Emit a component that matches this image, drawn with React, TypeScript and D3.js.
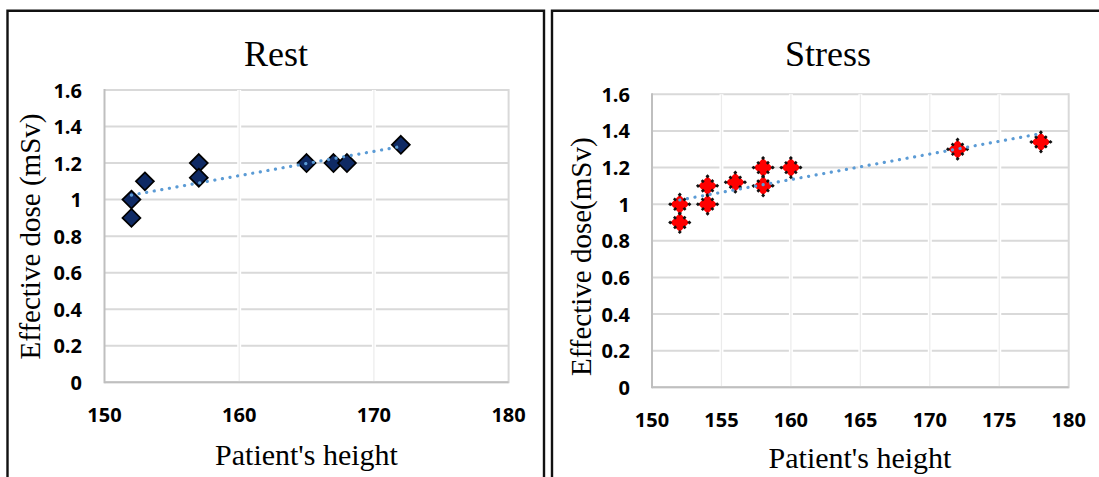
import React from "react";
import * as d3 from "d3";

// ---- data ----
const restHeight = [152, 152, 153, 157, 157, 165, 167, 168, 172];
const restDose = [0.9, 1.0, 1.1, 1.2, 1.12, 1.2, 1.2, 1.2, 1.3];
const stressHeight = [152, 152, 154, 154, 156, 158, 158, 160, 172, 178];
const stressDose = [0.9, 1.0, 1.0, 1.1, 1.12, 1.2, 1.1, 1.2, 1.3, 1.34];
const yTicks = [0, 0.2, 0.4, 0.6, 0.8, 1, 1.2, 1.4, 1.6];
const restXTicks = [150, 160, 170, 180];
const stressXTicks = [150, 155, 160, 165, 170, 175, 180];

const W = 1099;
const H = 477;

function fit(xs: number[], ys: number[]) {
  const mx = d3.mean(xs)!;
  const my = d3.mean(ys)!;
  let sxy = 0;
  let sxx = 0;
  xs.forEach((x, i) => {
    sxy += (x - mx) * (ys[i] - my);
    sxx += (x - mx) * (x - mx);
  });
  const b = sxy / sxx;
  const a = my - b * mx;
  const x0 = d3.min(xs)!;
  const x1 = d3.max(xs)!;
  return [
    [x0, a + b * x0],
    [x1, a + b * x1],
  ] as [number, number][];
}

type PanelProps = {
  xs: number[];
  ys: number[];
  xTicks: number[];
  xRange: [number, number];
  yRange: [number, number];
  title: string;
  titleX: number;
  xTitle: string;
  xTitleX: number;
  xTitleY: number;
  yTitle: string;
  yTitleX: number;
  yTitleY: number;
  yLabelX: number;
  xLabelY: number;
  kind: "rest" | "stress";
};

const tickFont = "'Open Sans', Lato, sans-serif";
const serif = "'Liberation Serif', 'Times New Roman', serif";

function Panel(p: PanelProps) {
  const x = d3.scaleLinear().domain([150, 180]).range(p.xRange);
  const y = d3.scaleLinear().domain([0, 1.6]).range(p.yRange);
  const trend = fit(p.xs, p.ys);
  const line = d3
    .line<[number, number]>()
    .x((d) => x(d[0]))
    .y((d) => y(d[1]));
  const diamond = (cx: number, cy: number, r: number) =>
    `M${cx},${cy - r}L${cx + r},${cy}L${cx},${cy + r}L${cx - r},${cy}Z`;
  const [xl, xr] = p.xRange;
  const [yb, yt] = p.yRange;
  return (
    <g>
      {yTicks.map((t) => (
        <line
          key={"h" + t}
          x1={xl}
          x2={xr}
          y1={y(t)}
          y2={y(t)}
          stroke="#D9D9D9"
          strokeWidth={2}
        />
      ))}
      {p.xTicks
        .filter((t) => t !== 150 && t !== 180)
        .map((t) => (
          <g key={"v" + t}>
            <line x1={x(t)} x2={x(t)} y1={yt} y2={yb - 1} stroke="#FFFFFF" strokeWidth={4} />
            <line x1={x(t)} x2={x(t)} y1={yt} y2={yb - 1} stroke="#EBEBEB" strokeWidth={1.2} />
          </g>
        ))}
      <line x1={xr} x2={xr} y1={yt - 1} y2={yb + 1} stroke="#D9D9D9" strokeWidth={2} />
      <line x1={xl} x2={xl} y1={yt - 1} y2={yb + 1} stroke="#BFBFBF" strokeWidth={2} />
      <line x1={xl} x2={xr} y1={yb} y2={yb} stroke="#BFBFBF" strokeWidth={2} />
      {yTicks.map((t) => (
        <text
          key={"yl" + t}
          x={p.yLabelX}
          y={y(t)}
          textAnchor="end"
          dominantBaseline="central"
          fontFamily={tickFont}
          fontWeight={700}
          fontSize={20}
          fill="#000"
        >
          {String(t)}
        </text>
      ))}
      {p.xTicks.map((t) => (
        <text
          key={"xl" + t}
          x={x(t)}
          y={p.xLabelY}
          textAnchor="middle"
          dominantBaseline="central"
          fontFamily={tickFont}
          fontWeight={700}
          fontSize={20}
          fill="#000"
        >
          {String(t)}
        </text>
      ))}
      {p.xs.map((v, i) =>
        p.kind === "rest" ? (
          <path
            key={"p" + i}
            d={diamond(x(v), y(p.ys[i]), 9)}
            fill="#0F2A64"
            stroke="#000"
            strokeWidth={1.7}
          />
        ) : (
          <g key={"p" + i}>
            <path d={diamond(x(v), y(p.ys[i]), 9.5)} fill="#FF0000" stroke="none" />
            <path
              d={diamond(x(v), y(p.ys[i]), 9.5)}
              fill="none"
              stroke="#111"
              strokeWidth={3}
              strokeDasharray="2.6 4.1"
              strokeDashoffset={1.3}
            />
          </g>
        )
      )}
      <path
        d={line(trend)!}
        fill="none"
        stroke="#5B9BD5"
        strokeWidth={3.2}
        strokeLinecap="round"
        strokeDasharray="0.1 7.6"
      />
      <text x={p.titleX} y={65.5} textAnchor="middle" fontFamily={serif} fontSize={36} fill="#000">
        {p.title}
      </text>
      <text x={p.xTitleX} y={p.xTitleY} textAnchor="middle" fontFamily={serif} fontSize={30} fill="#000">
        {p.xTitle}
      </text>
      <text
        transform={`translate(${p.yTitleX},${p.yTitleY}) rotate(-90)`}
        textAnchor="middle"
        fontFamily={serif}
        fontSize={29}
        fill="#000"
      >
        {p.yTitle}
      </text>
    </g>
  );
}

export default function App() {
  return (
    <svg width={W} height={H} style={{ position: "absolute", left: 0, top: 0, background: "#fff" }}>
      <rect x={0} y={0} width={W} height={H} fill="#fff" />
      <path d={`M7.5,${H + 5}V10.8H544V${H + 5}`} fill="none" stroke="#111" strokeWidth={2.4} />
      <path d={`M552,${H + 5}V10.8H${W + 5}`} fill="none" stroke="#111" strokeWidth={2.4} />
      <Panel
        xs={restHeight}
        ys={restDose}
        xTicks={restXTicks}
        xRange={[104.5, 508.6]}
        yRange={[382.3, 90]}
        title="Rest"
        titleX={276}
        xTitle="Patient's height"
        xTitleX={306.5}
        xTitleY={465}
        yTitle="Effective dose (mSv)"
        yTitleX={40}
        yTitleY={236.5}
        yLabelX={82}
        xLabelY={414}
        kind="rest"
      />
      <Panel
        xs={stressHeight}
        ys={stressDose}
        xTicks={stressXTicks}
        xRange={[652, 1068.7]}
        yRange={[387.3, 94.3]}
        title="Stress"
        titleX={828}
        xTitle="Patient's height"
        xTitleX={860}
        xTitleY={468}
        yTitle="Effective dose(mSv)"
        yTitleX={591}
        yTitleY={256.7}
        yLabelX={630}
        xLabelY={419}
        kind="stress"
      />
    </svg>
  );
}
